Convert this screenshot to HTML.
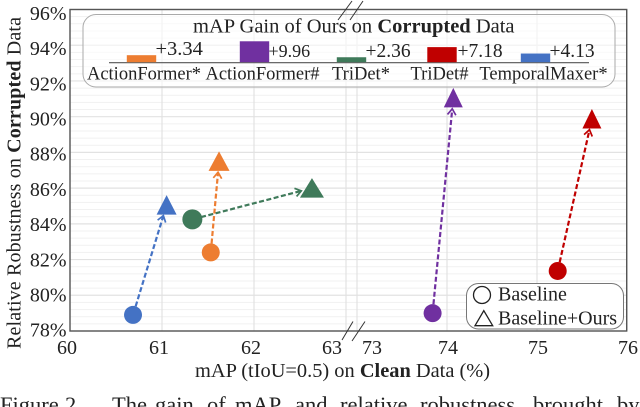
<!DOCTYPE html>
<html><head><meta charset="utf-8"><style>
html,body{margin:0;padding:0;background:#fff;width:640px;height:407px;overflow:hidden}
svg{display:block;font-family:"Liberation Serif",serif;fill:#222;filter:blur(0.3px)}
text{fill:#222}
</style></head><body>
<svg id="chart" width="640" height="407" viewBox="0 0 640 407" xmlns="http://www.w3.org/2000/svg">
<g id="grid"></g>
<g id="xlabels" font-size="20" text-anchor="middle"></g>
<g id="ylabels" font-size="20" text-anchor="end"></g>
<rect x="70" y="9.5" width="556.7" height="321.5" fill="none" stroke="#555" stroke-width="1.4"/>
<g id="series"></g>
<rect x="83" y="14.5" width="532" height="72.5" rx="13" fill="#fff" fill-opacity="0.6" stroke="#aaa" stroke-width="1"/>
<text x="193" y="32.5" font-size="20.5">mAP Gain of Ours on <tspan font-weight="bold">Corrupted</tspan> Data</text>
<line x1="109" y1="62.7" x2="589" y2="62.7" stroke="#555" stroke-width="1.2"/>
<g id="bars"></g>
<g stroke="#333" stroke-width="1" fill="none">
<line x1="338" y1="20" x2="352" y2="1"/>
<line x1="350" y1="20" x2="363" y2="1"/>
<line x1="342" y1="340" x2="353" y2="321.5"/>
<line x1="352" y1="341" x2="365" y2="321.5"/>
</g>
<rect x="466.5" y="283.5" width="157" height="45.5" rx="12" fill="#fff" stroke="#777" stroke-width="1"/>
<circle cx="482" cy="295" r="8.5" fill="none" stroke="#222" stroke-width="1.3"/>
<text x="498" y="300.7" font-size="20">Baseline</text>
<polygon points="475,325.7 492.7,325.7 483.8,310.7" fill="none" stroke="#222" stroke-width="1.3"/>
<text x="498" y="324.3" font-size="20">Baseline+Ours</text>
<text x="195" y="377" font-size="20.4">mAP (tIoU=0.5) on <tspan font-weight="bold">Clean</tspan> Data (%)</text>
<text transform="translate(20.5 349) rotate(-90)" font-size="20" textLength="332">Relative Robustness on <tspan font-weight="bold">Corrupted</tspan> Data</text>
<text y="412" font-size="22.5"><tspan x="0">Figure</tspan> <tspan x="65">2.</tspan> <tspan x="112">The</tspan> <tspan x="155">gain</tspan> <tspan x="207">of</tspan> <tspan x="235">mAP</tspan> <tspan x="295">and</tspan> <tspan x="340">relative</tspan> <tspan x="420">robustness</tspan> <tspan x="533">brought</tspan> <tspan x="617">by</tspan></text>
</svg>
<script>
const xTicks = [60, 61, 62, 63, 73, 74, 75, 76];
const yTicks = [78, 80, 82, 84, 86, 88, 90, 92, 94, 96];
const models = ["ActionFormer*", "ActionFormer#", "TriDet*", "TriDet#", "TemporalMaxer*"];
const gains = [3.34, 9.96, 2.36, 7.18, 4.13];
const colors = ["#ed7d31", "#7030a0", "#3f7a5a", "#c00000", "#4472c4"];
const baseX = [61.53, 73.84, 61.33, 75.23, 60.685];
const baseY = [82.4, 79.0, 84.25, 81.36, 78.9];
const oursX = [61.62, 74.07, 62.63, 75.61, 61.05];
const oursY = [87.5, 91.05, 86.0, 89.87, 85.05];

const barCenters = [141.5, 254.5, 351.5, 442, 535.5];
const gainLabelX = [155.5, 268.5, 365.5, 457.5, 549.5];
const gainLabelSize = [20.5, 18, 19.5, 19.5, 19.5];
const modelLabelX = [144, 262.5, 361, 439.5, 543.5];
const triW = [10.5, 9.5, 12, 9.5, 10];

const NS = 'http://www.w3.org/2000/svg';
function sx(v){ return v <= 63.5 ? 70 + (v - 60) * 92 : 357 + (v - 73) * 90; }
function sy(v){ return 331 - (v - 78) * 17.86; }
function bh(v){ return v * 2.1; }
function mk(tag, attrs, parent){
  const e = document.createElementNS(NS, tag);
  for (const k in attrs) e.setAttribute(k, attrs[k]);
  parent.appendChild(e);
  return e;
}
const grid = document.getElementById('grid');
const xl = document.getElementById('xlabels');
const yl = document.getElementById('ylabels');
const series = document.getElementById('series');
const bars = document.getElementById('bars');

for (let v = 78; v < 96; v += 0.4) {
  const isMajor = Math.abs((v - 78) / 2 - Math.round((v - 78) / 2)) < 0.01;
  if (isMajor) continue;
  const l = mk('line', {x1: 70, x2: 626.7, y1: sy(v), y2: sy(v), stroke: '#f1f1f1', 'stroke-width': 1}, grid);
  
  
}
yTicks.forEach(function(t){
  const l = mk('line', {x1: 70, x2: 626.7, y1: sy(t), y2: sy(t), stroke: '#e2e2e2', 'stroke-width': 1.2}, grid);
  
  
  const tx = mk('text', {x: 66.5, y: 336.7 - (t - 78) * 17.6}, yl);
  
  
  tx.textContent = t + '%';
});
xTicks.forEach(function(t){
  const l = mk('line', {x1: sx(t), x2: sx(t), y1: 9.5, y2: 331, stroke: '#e2e2e2', 'stroke-width': 1.2}, grid);
  
  
  const dx = t === 63 ? -14 : t === 73 ? 15 : t < 63 ? -3 : 1;
  const tx = mk('text', {x: sx(t) + dx, y: 354}, xl);
  
  
  tx.textContent = t;
});
models.forEach(function(m, i){
  const x0 = sx(baseX[i]), y0 = sy(baseY[i]), x1 = sx(oursX[i]), y1 = sy(oursY[i]);
  const a = Math.atan2(y1 - y0, x1 - x0);
  const ux = Math.cos(a), uy = Math.sin(a);
  const sx0 = x0 + ux * 9, sy0 = y0 + uy * 9;
  const ex = x1 - ux * 11, ey = y1 - uy * 11;
  const ln = mk('line', {x1: sx0, y1: sy0, x2: ex, y2: ey, stroke: colors[i], 'stroke-width': 2.2, 'stroke-dasharray': '5 2.5'}, series);
  
  
  const h = 6;
  const p = [[ex - ux*h - uy*h*0.7, ey - uy*h + ux*h*0.7], [ex, ey], [ex - ux*h + uy*h*0.7, ey - uy*h - ux*h*0.7]];
  const head = mk('polyline', {points: p.map(q => q.join(',')).join(' '), fill: 'none', stroke: colors[i], 'stroke-width': 1.7}, series);
  
  
  const c = mk('circle', {cx: x0, cy: y0, r: i === 2 ? 10 : 9, fill: colors[i]}, series);
  
  
  const w = triW[i];
  const tri = mk('polygon', {points: (x1 - w) + ',' + (y1 + 9.5) + ' ' + (x1 + w) + ',' + (y1 + 9.5) + ' ' + x1 + ',' + (y1 - 10), fill: colors[i]}, series);
  
  

  const b = mk('rect', {x: barCenters[i] - 14.7, y: 62.2 - bh(gains[i]), width: 29.4, height: bh(gains[i]), fill: colors[i]}, bars);
  
  
  const gt = mk('text', {x: gainLabelX[i], y: i === 0 ? 55 : 57, 'font-size': gainLabelSize[i]}, bars);
  
  
  gt.textContent = '+' + gains[i].toFixed(2);
  const mt = mk('text', {x: modelLabelX[i], y: 79.5, 'font-size': 18.5, 'text-anchor': 'middle'}, bars);
  
  
  mt.textContent = m;
});
</script>
</body></html>
